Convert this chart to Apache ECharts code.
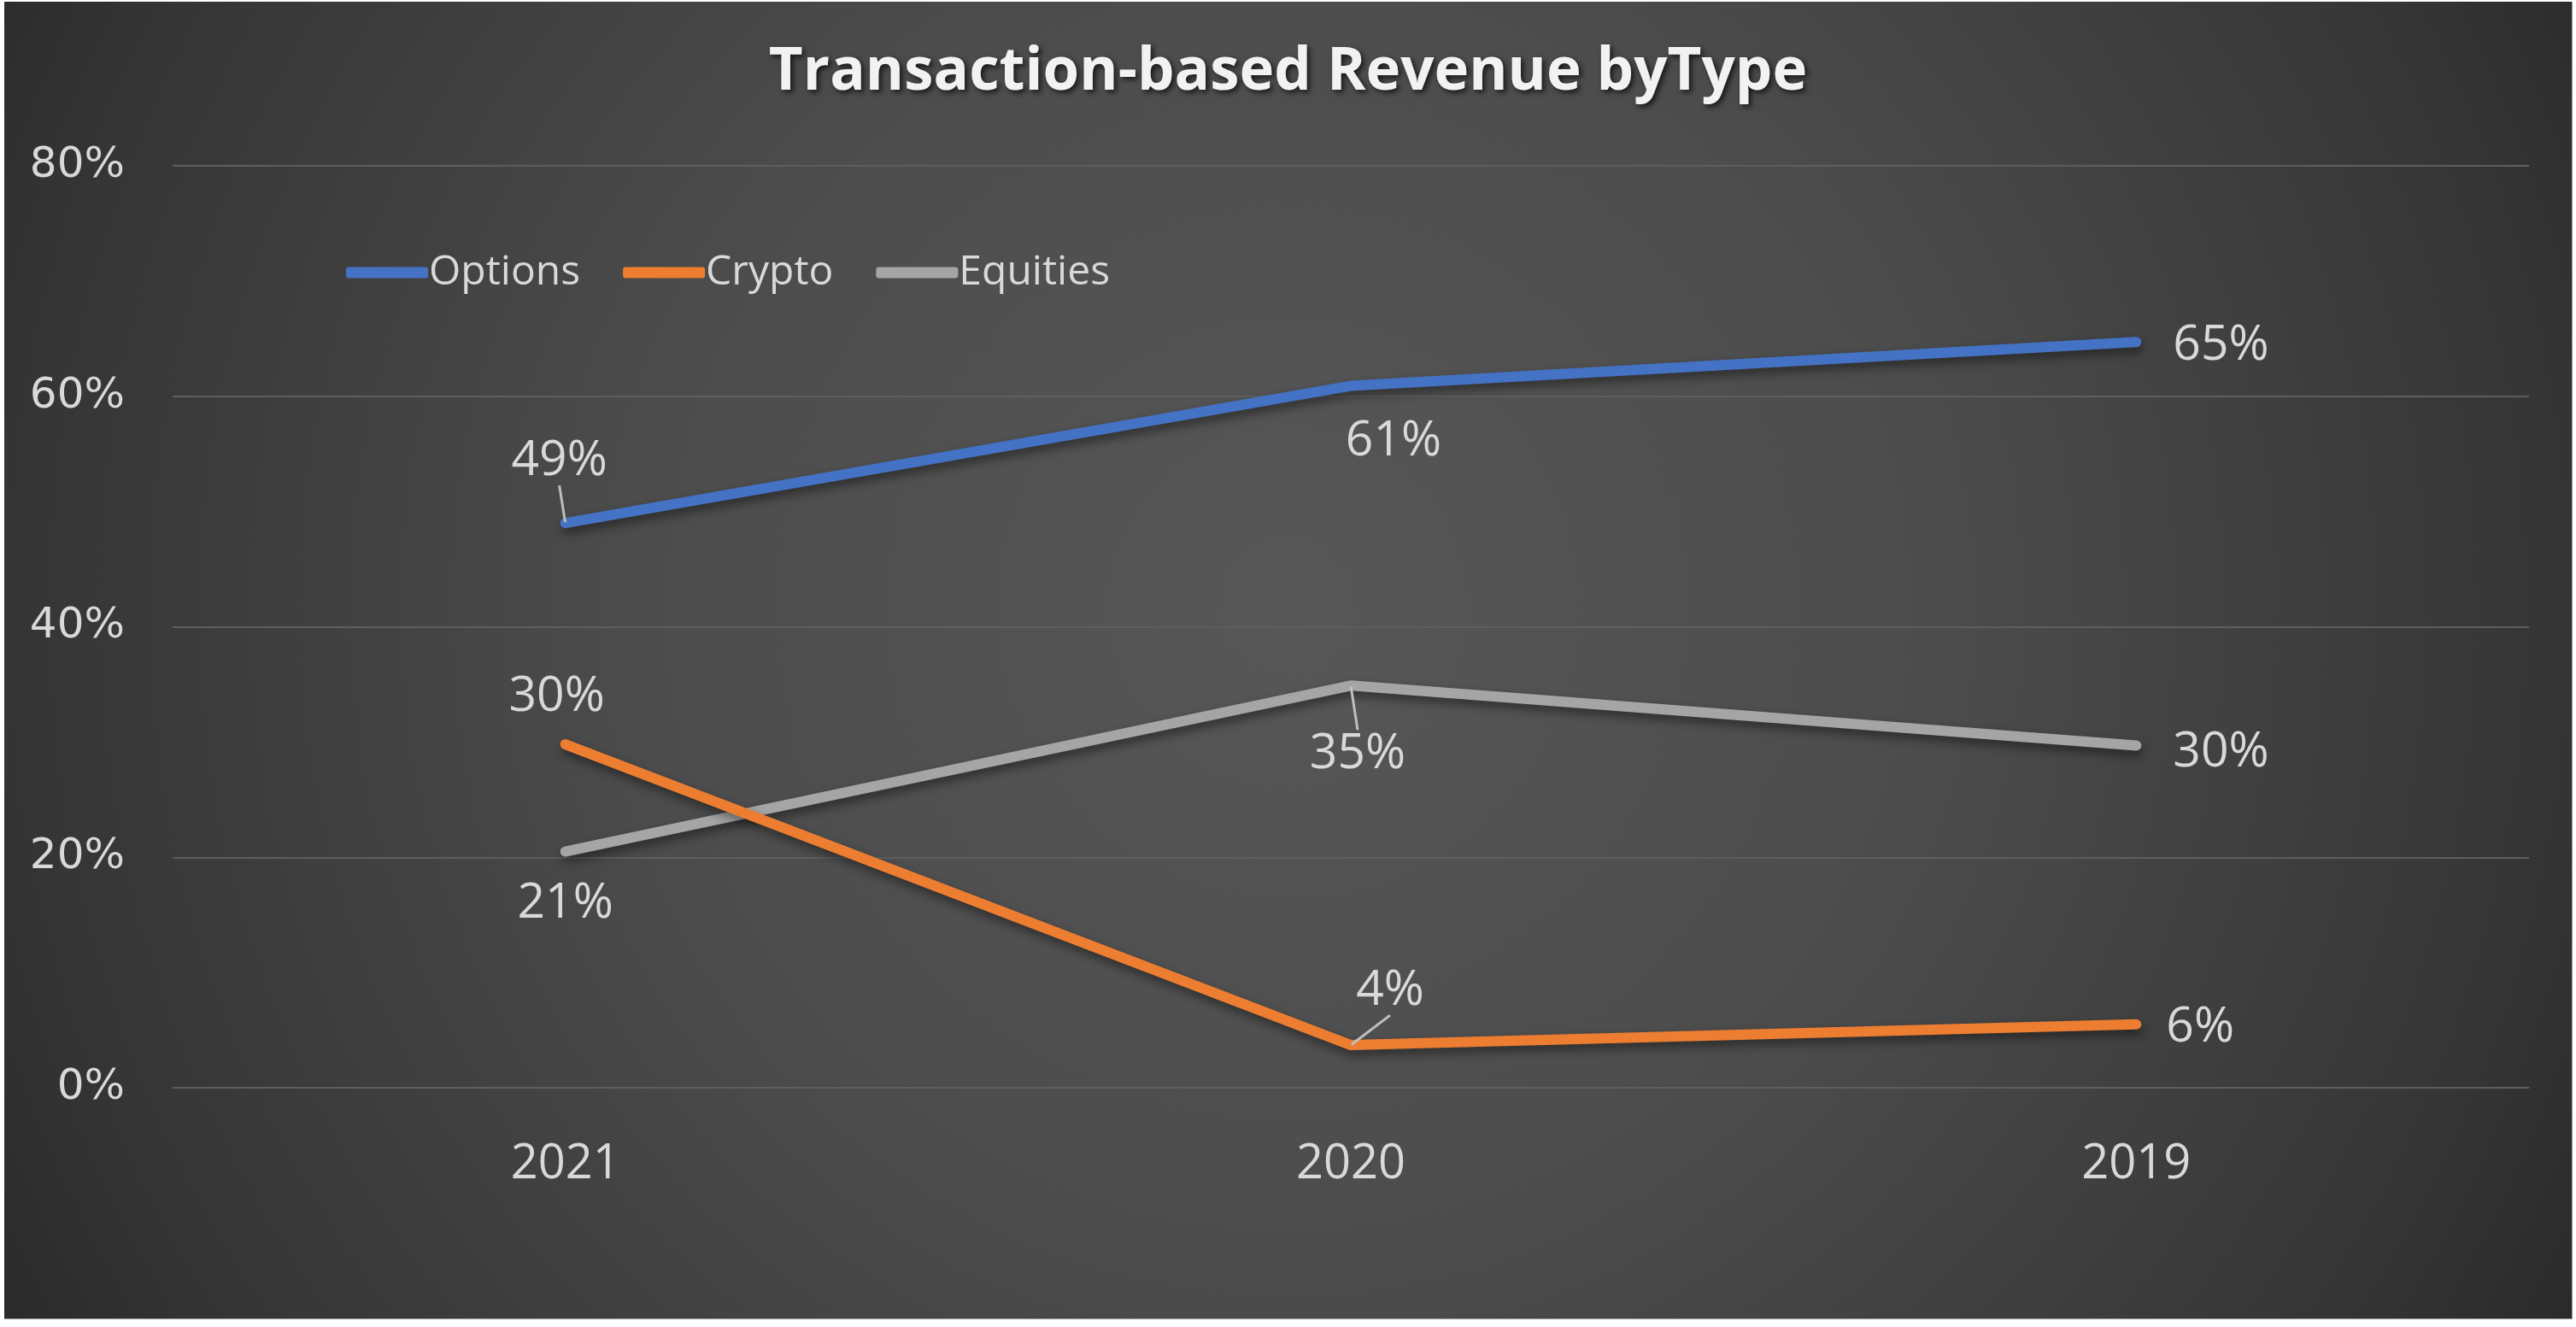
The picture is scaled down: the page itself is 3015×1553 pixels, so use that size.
<!DOCTYPE html>
<html>
<head>
<meta charset="utf-8">
<script src="https://cdn.jsdelivr.net/npm/echarts@6/dist/echarts.min.js"></script>
<style>
  html, body { margin: 0; padding: 0; background: #ffffff; }
  #chart {
    position: absolute; left: 5px; top: 2px; width: 3005px; height: 1541px;
    border-right: 1px solid #9a9a9a; border-bottom: 1px solid #9a9a9a;
    background: radial-gradient(circle at 50% 46%, #575757 0px, #4c4c4c 760px, #353535 1480px, #2a2a2a 1720px);
  }
</style>
</head>
<body>
<div id="chart"></div>
<script>
(function() {
  var years = ['2021', '2020', '2019'];
  var options = [0.49, 0.609, 0.647];
  var crypto = [0.298, 0.037, 0.055];
  var equities = [0.205, 0.349, 0.297];
  var yTicks = [0, 0.2, 0.4, 0.6, 0.8];

  var ink = '#d9d9d9';
  var font = '"Open Sans", "Noto Sans", sans-serif';

  // label placement per point: position, shift [dx, dy], leader line
  var optLabels = [['top', [-7, -38], true], ['bottom', [50, 31], false], ['right', [37, 4], false]];
  var cryLabels = [['top', [-10, -21], false], ['top', [46, -29], true], ['right', [29, 4], false]];
  var equLabels = [['bottom', [0, 27], false], ['bottom', [8, 46], true], ['right', [37, 8], false]];
  var places = [optLabels, cryLabels, equLabels];

  function points(vals, place) {
    return vals.map(function(v, i) {
      return {
        value: v,
        label: { position: place[i][0] },
        labelLine: { show: place[i][2] }
      };
    });
  }

  function series(name, vals, place, color, z) {
    return {
      name: name,
      type: 'line',
      z: z,
      data: points(vals, place),
      symbol: 'circle',
      symbolSize: 2,
      itemStyle: { color: color },
      lineStyle: {
        color: color, width: 12, cap: 'round', join: 'round',
        shadowColor: 'rgba(0,0,0,0.45)', shadowBlur: 12, shadowOffsetY: 6, shadowOffsetX: 2
      },
      label: {
        show: true,
        color: ink,
        fontSize: 57,
        fontFamily: font,
        distance: 5,
        formatter: function(p) { return Math.round(p.value * 100) + '%'; }
      },
      labelLine: { show: true, lineStyle: { color: '#bfbfbf', width: 3 } },
      emphasis: { disabled: true }
    };
  }

  var chart = echarts.init(document.getElementById('chart'));
  chart.setOption({
    animation: false,
    backgroundColor: 'transparent',
    title: {
      text: 'Transaction-based Revenue byType',
      left: 'center',
      top: 44,
      textStyle: {
        color: '#f2f2f2', fontSize: 69, fontWeight: 'bold', fontFamily: font,
        textShadowColor: 'rgba(0,0,0,0.7)', textShadowBlur: 6, textShadowOffsetX: 3, textShadowOffsetY: 3
      }
    },
    legend: {
      left: 395,
      top: 288,
      itemWidth: 96,
      itemHeight: 13,
      itemGap: 50,
      icon: 'roundRect',
      textStyle: { color: ink, fontSize: 48, fontFamily: font, padding: [0, 0, 0, -4] },
      data: ['Options', 'Crypto', 'Equities']
    },
    grid: { left: 197, right: 50, top: 192, bottom: 270 },
    xAxis: {
      type: 'category',
      data: years,
      boundaryGap: true,
      axisLine: { show: false },
      axisTick: { show: false },
      axisLabel: { color: ink, fontSize: 56, fontFamily: font, margin: 62 }
    },
    yAxis: {
      type: 'value',
      min: yTicks[0],
      max: yTicks[yTicks.length - 1],
      interval: 0.2,
      axisLine: { show: false },
      axisTick: { show: false },
      splitLine: { lineStyle: { color: '#5e5e5e', width: 2 } },
      axisLabel: {
        color: ink, fontSize: 50, fontFamily: '"DejaVu Sans", sans-serif', margin: 56,
        formatter: function(v) { return Math.round(v * 100) + '%'; }
      }
    },
    labelLayout: function(p) {
      var s = places[p.seriesIndex][p.dataIndex][1];
      return { dx: s[0], dy: s[1] };
    },
    series: [
      series('Options', options, optLabels, '#4472C4', 3),
      series('Crypto', crypto, cryLabels, '#ED7D31', 2),
      series('Equities', equities, equLabels, '#A5A5A5', 1)
    ]
  });
  window.addEventListener('resize', function() { chart.resize(); });
})();
</script>
</body>
</html>
